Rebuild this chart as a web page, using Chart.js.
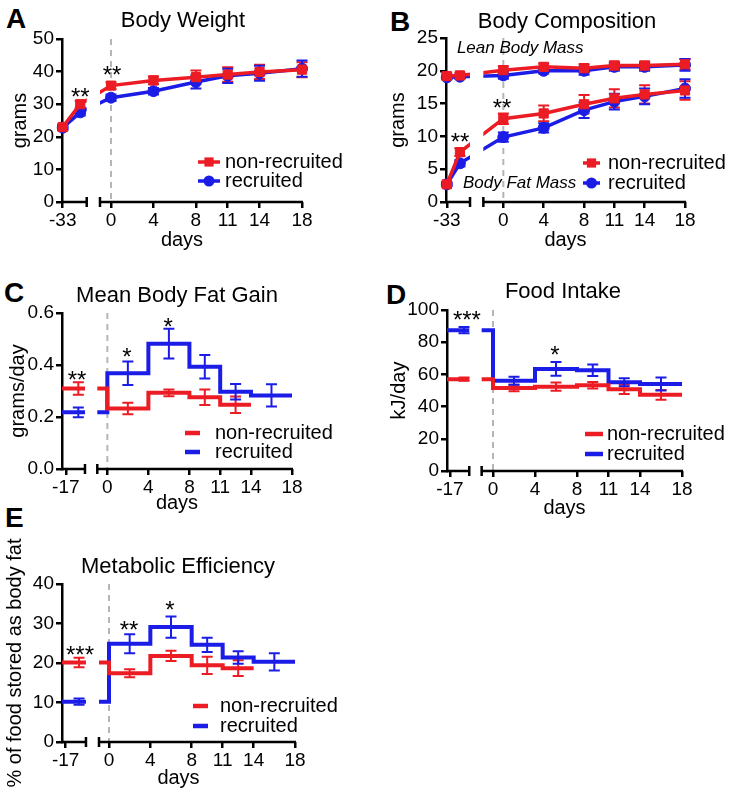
<!DOCTYPE html>
<html lang="en">
<head>
<meta charset="utf-8">
<script src="https://cdn.jsdelivr.net/npm/chart.js@4.4.1/dist/chart.umd.min.js"></script>
<style>
  body { margin: 0; background: #fff; }
  #page { position: relative; width: 733px; height: 796px; overflow: hidden; background: #fff; }
  #page canvas { position: absolute; }
  .letter { position: absolute; font: bold 28px "Liberation Sans", Arial, sans-serif; line-height: 28px; color: #000; }
</style>
</head>
<body>
<div id="page">
  <div class="letter" style="left:6px;top:5px">A</div>
  <div class="letter" style="left:390px;top:8px">B</div>
  <div class="letter" style="left:4px;top:279px">C</div>
  <div class="letter" style="left:386px;top:281px">D</div>
  <div class="letter" style="left:5px;top:504px">E</div>
  <canvas id="weight" width="366" height="260" style="left:0;top:0"></canvas>
  <canvas id="composition" width="365" height="260" style="left:368px;top:0"></canvas>
  <canvas id="fatgain" width="365" height="258" style="left:0;top:265px"></canvas>
  <canvas id="food" width="365" height="258" style="left:368px;top:265px"></canvas>
  <canvas id="efficiency" width="365" height="266" style="left:0;top:530px"></canvas>
</div>

<script>
const RED = '#ec1c24';
const BLUE = '#1b1de6';
const FONT = '"Liberation Sans", Arial, sans-serif';

// x values are in axis units: 0..18 are days, the stretch left of the
// axis break holds the pre-period points on its own short scale
const dayTicks = [0, 4, 8, 11, 14, 18];
const dayTickLabels = ['0', '4', '8', '11', '14', '18'];

// A - body weight (grams)
const weightX = [-4.55, -2.9, 0, 4, 8, 11, 14, 18];
const weightNonRec = [23.0, 30.0, 35.7, 37.3, 38.3, 39.1, 39.9, 40.6];
const weightNonRecErr = [0.8, 1.0, 1.0, 1.2, 2.0, 2.2, 2.2, 2.3];
const weightRec = [22.8, 27.5, 32.0, 34.0, 36.8, 38.7, 39.5, 40.9];
const weightRecErr = [0.8, 1.0, 1.0, 1.0, 2.0, 2.2, 2.3, 2.5];

// B - body composition (grams)
const compX = [-5.6, -4.3, 0, 4, 8, 11, 14, 18];
const leanNonRec = [19.2, 19.3, 20.1, 20.6, 20.4, 20.8, 20.8, 21.0];
const leanNonRecErr = [0.4, 0.4, 0.6, 0.5, 0.6, 0.6, 0.6, 0.8];
const leanRec = [19.0, 19.1, 19.3, 20.0, 20.0, 20.6, 20.6, 20.9];
const leanRecErr = [0.3, 0.3, 0.5, 0.4, 0.6, 0.6, 0.6, 0.9];
const fatNonRec = [2.7, 7.6, 12.7, 13.5, 14.9, 15.8, 16.4, 17.0];
const fatNonRecErr = [0.3, 0.6, 0.8, 1.2, 1.4, 1.4, 1.4, 1.4];
const fatRec = [2.7, 5.9, 9.9, 11.3, 14.0, 15.3, 16.1, 17.3];
const fatRecErr = [0.3, 0.5, 0.7, 0.7, 1.2, 1.2, 1.2, 1.4];

// C, D, E - one value per period: pre (-17..0), 0-4, 4-8, 8-11, 11-14, 14-18
const periodEdges = [0, 4, 8, 11, 14, 18];
const periodMid = [2, 6, 9.5, 12.5, 16];

const gainNonRec = [0.31, 0.233, 0.293, 0.276, 0.247];
const gainNonRecErr = [0.024, 0.022, 0.013, 0.03, 0.032];
const gainRec = [0.218, 0.368, 0.482, 0.393, 0.297, 0.283];
const gainRecErr = [0.019, 0.045, 0.057, 0.045, 0.03, 0.043];

const foodNonRec = [57.0, 51.5, 52.4, 53.3, 50.8, 47.3];
const foodNonRecErr = [1.0, 2.0, 2.5, 2.0, 3.0, 3.0];
const foodRec = [87.5, 56.1, 63.4, 62.6, 55.1, 54.0];
const foodRecErr = [2.0, 2.5, 4.3, 3.6, 2.5, 4.0];

const effNonRec = [20.1, 17.4, 21.8, 19.4, 18.7];
const effNonRecErr = [1.2, 1.0, 1.3, 2.2, 2.0];
const effRec = [10.2, 24.9, 29.1, 24.6, 21.4, 20.3];
const effRecErr = [0.8, 2.4, 2.7, 1.8, 1.6, 2.2];

function lineSet(label, color, style, xs, ys) {
  return {
    label, data: xs.map((x, i) => ({x, y: ys[i]})),
    borderColor: color, backgroundColor: color, borderWidth: 3.5,
    pointStyle: style, pointRadius: style === 'rect' ? 6.5 : 5.5,
    pointBorderWidth: 1, clip: false
  };
}

function stepSet(label, color, xStart, vals) {
  const edges = [xStart].concat(periodEdges);
  const data = vals.map((v, i) => ({x: edges[i], y: v}));
  data.push({x: edges[vals.length], y: vals[vals.length - 1]});
  return {label, data, borderColor: color, backgroundColor: color, borderWidth: 4,
    stepped: 'before', pointRadius: 0, clip: false};
}

const LEGEND = [['non-recruited', RED, 'rect'], ['recruited', BLUE, 'circle']];

const panels = {
  weight: {
    title: 'Body Weight', titlePos: [183, 27], yTitle: 'grams', yTitlePad: 8, xTitlePad: 8,
    left: 62, top: 39, right: 64, bottomH: 58,
    xMin: -4.62, gap: [-2.29, -1.04], preTick: -4.55, preLabel: '-33',
    yMax: 50, yStep: 10, yDec: 0,
    datasets: [lineSet('non-recruited', RED, 'rect', weightX, weightNonRec),
               lineSet('recruited', BLUE, 'circle', weightX, weightRec)],
    errors: [[RED, weightX, weightNonRec, weightNonRecErr], [BLUE, weightX, weightRec, weightRecErr]],
    stars: [['**', -2.9, 33.7], ['**', 0.1, 40.5]],
    legend: {x1: 198, x2: 220, tx: 225, y: [162, 181], marker: true},
    notes: []
  },
  composition: {
    title: 'Body Composition', titlePos: [199, 28], yTitle: 'grams', yTitlePad: 18, xTitlePad: 8,
    left: 78, top: 38, right: 48, bottomH: 58,
    xMin: -5.68, gap: [-3.3, -1.98], preTick: -5.6, preLabel: '-33',
    yMax: 25, yStep: 5, yDec: 0,
    datasets: [lineSet('non-recruited', RED, 'rect', compX, leanNonRec),
               lineSet('non-recruited', RED, 'rect', compX, fatNonRec),
               lineSet('recruited', BLUE, 'circle', compX, leanRec),
               lineSet('recruited', BLUE, 'circle', compX, fatRec)],
    errors: [[RED, compX, leanNonRec, leanNonRecErr], [RED, compX, fatNonRec, fatNonRecErr],
             [BLUE, compX, leanRec, leanRecErr], [BLUE, compX, fatRec, fatRecErr]],
    stars: [['**', -4.29, 9.9], ['**', -0.13, 15.1]],
    legend: {x1: 215, x2: 232, tx: 240, y: [163, 183], marker: true},
    notes: [['Lean Body Mass', -4.6, 23.5], ['Body Fat Mass', -4.0, 2.9]]
  },
  fatgain: {
    title: 'Mean Body Fat Gain', titlePos: [177, 37], yTitle: 'grams/day', yTitlePad: 6, xTitlePad: 8,
    left: 62, top: 48, right: 73, bottomH: 54,
    xMin: -4.42, gap: [-2.18, -0.98], preTick: -4.05, preLabel: '-17',
    yMax: 0.6, yStep: 0.2, yDec: 1,
    datasets: [stepSet('non-recruited', RED, -4.42, gainNonRec),
               stepSet('recruited', BLUE, -4.42, gainRec)],
    errors: [[RED, [-2.83].concat(periodMid), gainNonRec, gainNonRecErr],
             [BLUE, [-2.83].concat(periodMid), gainRec, gainRecErr]],
    stars: [['**', -2.96, 0.362], ['*', 1.92, 0.45], ['*', 5.93, 0.565]],
    legend: {x1: 185, x2: 200, tx: 215, y: [168, 187], marker: false},
    notes: []
  },
  food: {
    title: 'Food Intake', titlePos: [195, 33], yTitle: 'kJ/day', yTitlePad: 19, xTitlePad: 3,
    left: 79, top: 45, right: 51, bottomH: 52,
    xMin: -4.38, gap: [-2.26, -1.08], preTick: -4.1, preLabel: '-17',
    yMax: 100, yStep: 20, yDec: 0,
    datasets: [stepSet('non-recruited', RED, -4.38, foodNonRec),
               stepSet('recruited', BLUE, -4.38, foodRec)],
    errors: [[RED, [-2.76].concat(periodMid), foodNonRec, foodNonRecErr],
             [BLUE, [-2.76].concat(periodMid), foodRec, foodRecErr]],
    stars: [['***', -2.48, 96.9], ['*', 5.9, 75.2]],
    legend: {x1: 217, x2: 235, tx: 239, y: [169, 189], marker: false},
    notes: []
  },
  efficiency: {
    title: 'Metabolic Efficiency', titlePos: [178, 43], yTitle: '% of food stored as body fat', yTitlePad: 3, xTitlePad: 6,
    left: 62, top: 54, right: 70, bottomH: 54,
    xMin: -4.55, gap: [-2.23, -0.97], preTick: -4.2, preLabel: '-17',
    yMax: 40, yStep: 10, yDec: 0,
    datasets: [stepSet('non-recruited', RED, -4.55, effNonRec),
               stepSet('recruited', BLUE, -4.55, effRec)],
    errors: [[RED, [-2.9].concat(periodMid), effNonRec, effNonRecErr],
             [BLUE, [-2.9].concat(periodMid), effRec, effRecErr]],
    stars: [['***', -2.81, 23.3], ['**', 1.94, 29.6], ['*', 5.9, 34.7]],
    legend: {x1: 193, x2: 208, tx: 220, y: [176, 196], marker: false},
    notes: []
  }
};

function drawMarker(ctx, style, x, y, color) {
  ctx.fillStyle = color;
  ctx.beginPath();
  if (style === 'rect') ctx.rect(x - 4.6, y - 4.6, 9.2, 9.2);
  else ctx.arc(x, y, 5.5, 0, Math.PI * 2);
  ctx.fill();
}

const decor = {
  id: 'decor',
  beforeDatasetsDraw(chart) {
    const p = panels[chart.canvas.id];
    const {ctx, chartArea: a, scales: {x, y}} = chart;
    // dashed line at day 0
    const x0 = x.getPixelForValue(0);
    ctx.save();
    ctx.strokeStyle = '#b5b5b5';
    ctx.lineWidth = 2;
    ctx.setLineDash([6, 5]);
    ctx.beginPath();
    ctx.moveTo(x0, a.top);
    ctx.lineTo(x0, a.bottom);
    ctx.stroke();
    ctx.restore();
    // error bars (SEM)
    ctx.save();
    ctx.lineWidth = 2;
    p.errors.forEach(([color, xs, ys, es]) => {
      ctx.strokeStyle = color;
      ys.forEach((v, i) => {
        const px = x.getPixelForValue(xs[i]);
        const t = y.getPixelForValue(v + es[i]), b = y.getPixelForValue(v - es[i]);
        ctx.beginPath();
        ctx.moveTo(px, t); ctx.lineTo(px, b);
        ctx.moveTo(px - 5.5, t); ctx.lineTo(px + 5.5, t);
        ctx.moveTo(px - 5.5, b); ctx.lineTo(px + 5.5, b);
        ctx.stroke();
      });
    });
    ctx.restore();
    // hide everything inside the axis break
    const g1 = x.getPixelForValue(p.gap[0]), g2 = x.getPixelForValue(p.gap[1]);
    ctx.save();
    ctx.beginPath();
    ctx.rect(0, 0, g1, chart.height);
    ctx.rect(g2, 0, chart.width - g2, chart.height);
    ctx.clip();
  },
  afterDatasetsDraw(chart) {
    const p = panels[chart.canvas.id];
    const {ctx, chartArea: a, scales: {x, y}} = chart;
    ctx.restore();
    ctx.save();
    // broken x axis
    const g1 = x.getPixelForValue(p.gap[0]), g2 = x.getPixelForValue(p.gap[1]);
    const yb = a.bottom;
    ctx.strokeStyle = '#000';
    ctx.lineWidth = 2.5;
    ctx.beginPath();
    ctx.moveTo(a.left - 1, yb); ctx.lineTo(g1, yb);
    ctx.moveTo(g2, yb); ctx.lineTo(x.getPixelForValue(18) + 1, yb);
    ctx.moveTo(g1, yb - 5); ctx.lineTo(g1, yb + 5);
    ctx.moveTo(g2, yb - 5); ctx.lineTo(g2, yb + 5);
    ctx.stroke();
    // title
    ctx.fillStyle = '#000';
    ctx.font = '22px ' + FONT;
    ctx.textAlign = 'center';
    ctx.textBaseline = 'alphabetic';
    ctx.fillText(p.title, p.titlePos[0], p.titlePos[1]);
    // significance stars
    ctx.font = '24px ' + FONT;
    p.stars.forEach(([s, sx, sy]) => {
      ctx.fillText(s, x.getPixelForValue(sx), y.getPixelForValue(sy) + 13);
    });
    // italic labels
    ctx.font = 'italic 17px ' + FONT;
    ctx.textAlign = 'left';
    ctx.textBaseline = 'middle';
    p.notes.forEach(([t, nx, ny]) => {
      ctx.fillText(t, x.getPixelForValue(nx), y.getPixelForValue(ny));
    });
    // legend
    const lg = p.legend;
    LEGEND.forEach(([label, color, style], i) => {
      const ly = lg.y[i];
      ctx.strokeStyle = color;
      ctx.lineWidth = lg.marker ? 3.5 : 4.5;
      ctx.beginPath();
      ctx.moveTo(lg.x1, ly); ctx.lineTo(lg.x2, ly);
      ctx.stroke();
      if (lg.marker) drawMarker(ctx, style, (lg.x1 + lg.x2) / 2, ly, color);
      ctx.fillStyle = '#000';
      ctx.font = '20px ' + FONT;
      ctx.fillText(label, lg.tx, ly);
    });
    ctx.restore();
  }
};

Object.keys(panels).forEach(id => {
  const p = panels[id];
  const tickPos = [p.preTick].concat(dayTicks);
  const tickLabels = [p.preLabel].concat(dayTickLabels);
  new Chart(document.getElementById(id), {
    type: 'line',
    data: {datasets: p.datasets},
    options: {
      responsive: false,
      animation: false,
      events: [],
      layout: {padding: {left: 0, top: p.top, right: p.right, bottom: 0}},
      plugins: {legend: {display: false}, tooltip: {enabled: false}},
      scales: {
        x: {
          type: 'linear', min: p.xMin, max: 18,
          afterBuildTicks: s => { s.ticks = tickPos.map(v => ({value: v})); },
          afterFit: s => { s.height = p.bottomH; },
          border: {display: false},
          grid: {drawOnChartArea: false, drawTicks: true, tickLength: 6, color: '#000', lineWidth: 2.5},
          ticks: {autoSkip: false, maxRotation: 0, padding: 1, color: '#000',
                  font: {family: FONT, size: 19}, callback: (v, i) => tickLabels[i]},
          title: {display: true, text: 'days', color: '#000', font: {family: FONT, size: 20},
                  padding: {top: 0, bottom: p.xTitlePad}}
        },
        y: {
          min: 0, max: p.yMax,
          afterFit: s => { s.width = p.left; },
          border: {display: true, color: '#000', width: 2.5},
          grid: {drawOnChartArea: false, drawTicks: true, tickLength: 6, color: '#000', lineWidth: 2.5},
          ticks: {stepSize: p.yStep, padding: 2, color: '#000', font: {family: FONT, size: 19},
                  callback: v => v.toFixed(p.yDec)},
          title: {display: true, text: p.yTitle, color: '#000', font: {family: FONT, size: 20},
                  padding: {top: p.yTitlePad, bottom: 0}}
        }
      }
    },
    plugins: [decor]
  });
});
</script>
</body>
</html>
